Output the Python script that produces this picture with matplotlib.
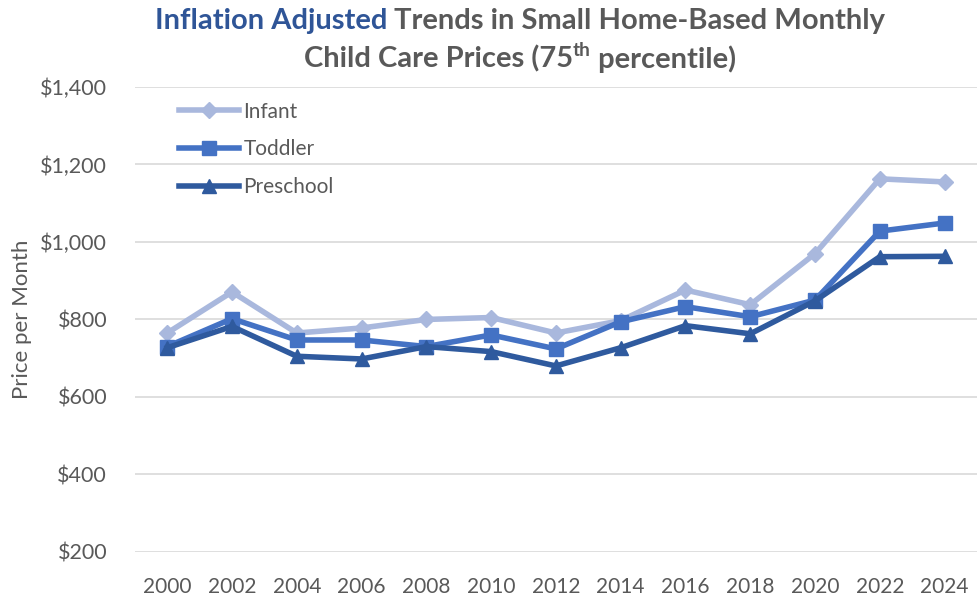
import matplotlib
matplotlib.use("Agg")
import matplotlib.pyplot as plt
from matplotlib.ticker import FuncFormatter

years = ["2000", "2002", "2004", "2006", "2008", "2010", "2012",
         "2014", "2016", "2018", "2020", "2022", "2024"]
infant = [765, 871, 765, 778, 800, 805, 765, 797, 876, 838, 970, 1163, 1155]
toddler = [730, 802, 747, 747, 730, 760, 724, 794, 833, 807, 850, 1028, 1049]
preschool = [727, 782, 705, 698, 730, 717, 680, 727, 784, 763, 848, 962, 963]

FONT = "Lato"
GREY = "#595959"
fig = plt.figure(figsize=(9.77, 5.96), dpi=100)
ax = fig.add_axes([0.138, 0.074, 0.862, 0.780])

x = list(range(len(years)))
ax.plot(x, infant, color="#A9B8DD", lw=4, marker="D", ms=8, label="Infant", zorder=3)
ax.plot(x, toddler, color="#4472C4", lw=4, marker="s", ms=10, label="Toddler", zorder=4)
ax.plot(x, preschool, color="#2F5A9E", lw=4, marker="^", ms=10, label="Preschool", zorder=5)

ax.set_xlim(-0.5, len(years) - 0.5)
ax.set_ylim(200, 1400)
ax.set_yticks(range(200, 1401, 200))
ax.yaxis.set_major_formatter(FuncFormatter(lambda v, p: f"${int(v):,}"))
ax.set_xticks(x)
ax.set_xticklabels(years)
ax.grid(axis="y", color="#D9D9D9", lw=1.2)
ax.set_axisbelow(True)
for s in ax.spines.values():
    s.set_visible(False)
ax.tick_params(axis="y", length=0, labelsize=15.5, colors=GREY, pad=20)
ax.tick_params(axis="x", length=0, labelsize=15, colors=GREY, pad=18)
for lab in ax.get_xticklabels() + ax.get_yticklabels():
    lab.set_fontfamily(FONT)
ax.set_ylabel("Price per Month", fontsize=16, color=GREY, family=FONT, labelpad=6)

leg = ax.legend(loc="upper left", bbox_to_anchor=(0.035, 1.0), frameon=False,
                prop={"family": FONT, "size": 15}, handlelength=2.9,
                labelspacing=0.85, handletextpad=0.2, borderaxespad=0.3)
for t in leg.get_texts():
    t.set_color(GREY)

# Title pieces
fig.canvas.draw()
r = fig.canvas.get_renderer()
TS = 21
cx = 520 / 977

def width(t):
    return t.get_window_extent(r).width / fig.bbox.width

y1 = 1 - 21 / 596
y2 = 1 - 59 / 596
p1 = fig.text(0, y1, "Inflation Adjusted", color="#2F5597", fontsize=TS, weight="bold", family=FONT, va="center")
p2 = fig.text(0, y1, " Trends in Small Home-Based Monthly", color=GREY, fontsize=TS, weight="bold", family=FONT, va="center")
w1, w2 = width(p1), width(p2)
start = cx - (w1 + w2) / 2
p1.set_x(start)
p2.set_x(start + w1)

q1 = fig.text(0, y2, "Child Care Prices (75", color=GREY, fontsize=TS, weight="bold", family=FONT, va="center")
q2 = fig.text(0, y2 + 0.015, "th", color=GREY, fontsize=TS * 0.65, weight="bold", family=FONT, va="center")
q3 = fig.text(0, y2, " percentile)", color=GREY, fontsize=TS, weight="bold", family=FONT, va="center")
a, b, c = width(q1), width(q2), width(q3)
start = cx - (a + b + c) / 2
q1.set_x(start)
q2.set_x(start + a)
q3.set_x(start + a + b)

fig.savefig("out.png", dpi=100)
